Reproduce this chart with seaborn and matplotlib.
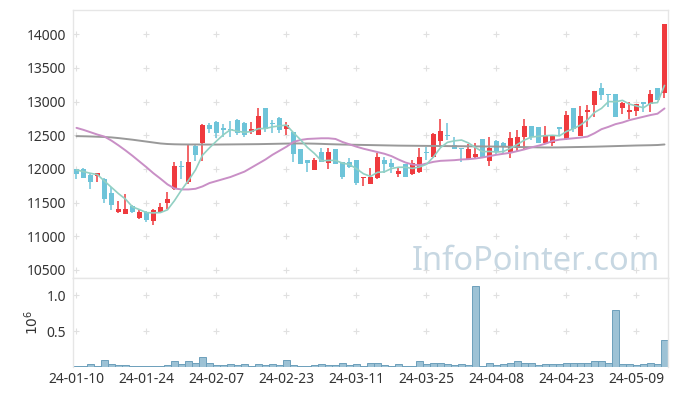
import numpy as np
import pandas as pd
import matplotlib
matplotlib.use("Agg")
import matplotlib.pyplot as plt
import seaborn as sns

# daily OHLC (KRW), 2024-01-10 .. 2024-05-16
opens = [11992, 11997, 11903, 11893, 11844, 11636, 11364, 11334, 11448, 11274,
         11359, 11230, 11364, 11497, 11696, 12037, 11809, 12343, 12378, 12650,
         12699, 12610, 12590, 12724, 12680, 12551, 12502, 12907, 12684, 12758,
         12595, 12542, 12294, 12131, 11978, 12245, 12091, 12294, 12096, 12096,
         12131, 11859, 11770, 11868, 12131, 12082, 11923, 12071, 11918, 11957,
         12245, 12171, 12413, 12502, 12353, 12313, 12141, 12180, 12442, 12121,
         12422, 12378, 12239, 12304, 12467, 12635, 12616, 12378, 12378, 12625,
         12438, 12907, 12487, 12838, 12947, 13195, 13120, 13120, 12898, 12838,
         12862, 12987, 12962, 13195, 13129]
highs = [12001, 12007, 11942, 11942, 11859, 11734, 11522, 11621, 11463, 11389,
         11374, 11408, 11497, 11660, 12105, 12120, 12353, 12368, 12660, 12684,
         12714, 12660, 12709, 12739, 12694, 12690, 12907, 12910, 12724, 12768,
         12690, 12542, 12294, 12131, 12160, 12304, 12304, 12294, 12096, 12165,
         12131, 11874, 12007, 12239, 12170, 12141, 12007, 12071, 12131, 12304,
         12328, 12536, 12735, 12684, 12476, 12313, 12368, 12378, 12442, 12476,
         12427, 12393, 12551, 12576, 12739, 12635, 12616, 12635, 12502, 12625,
         12858, 12907, 12932, 12947, 13155, 13269, 13120, 13120, 12987, 12987,
         12962, 12987, 13169, 13195, 14149]
lows = [11853, 11868, 11696, 11809, 11488, 11389, 11349, 11325, 11349, 11262,
        11206, 11166, 11340, 11403, 11685, 11844, 11774, 12120, 12120, 12536,
        12462, 12476, 12472, 12502, 12472, 12512, 12502, 12542, 12527, 12527,
        12502, 12096, 12067, 11957, 11978, 12096, 11993, 12067, 11849, 12007,
        11760, 11749, 11770, 11849, 11942, 11942, 11883, 11874, 11908, 11942,
        12131, 12156, 12343, 12427, 12289, 12105, 12141, 12145, 12180, 12041,
        12215, 12230, 12156, 12269, 12279, 12427, 12387, 12368, 12343, 12502,
        12427, 12551, 12487, 12625, 12773, 13021, 12921, 12773, 12813, 12739,
        12784, 12847, 12847, 13021, 13046]
closes = [11927, 11868, 11809, 11933, 11556, 11463, 11403, 11403, 11354, 11359,
          11236, 11384, 11429, 11556, 12042, 12022, 12101, 12205, 12650, 12586,
          12527, 12576, 12575, 12536, 12502, 12591, 12784, 12586, 12660, 12576,
          12650, 12215, 12067, 12082, 12131, 12105, 12245, 12067, 11883, 12031,
          11785, 11874, 11874, 12180, 12071, 12031, 11967, 11874, 12091, 12180,
          12230, 12516, 12561, 12487, 12289, 12294, 12294, 12220, 12180, 12313,
          12244, 12338, 12453, 12476, 12635, 12467, 12387, 12502, 12502, 12595,
          12798, 12586, 12784, 12873, 13155, 13095, 13095, 12773, 12972, 12873,
          12962, 12962, 13106, 13021, 14149]
# volume in millions of shares
volume = [0.023, 0.023, 0.042, 0.023, 0.097, 0.042, 0.028, 0.028, 0.014, 0.023,
          0.023, 0.023, 0.023, 0.037, 0.083, 0.042, 0.083, 0.056, 0.139, 0.069,
          0.037, 0.028, 0.042, 0.028, 0.042, 0.014, 0.042, 0.028, 0.042, 0.028,
          0.097, 0.028, 0.014, 0.014, 0.028, 0.042, 0.028, 0.032, 0.056, 0.028,
          0.042, 0.014, 0.056, 0.056, 0.028, 0.014, 0.042, 0.014, 0.014, 0.083,
          0.042, 0.056, 0.056, 0.042, 0.028, 0.042, 0.028, 1.13, 0.014, 0.056,
          0.028, 0.042, 0.069, 0.083, 0.056, 0.056, 0.028, 0.042, 0.042, 0.042,
          0.069, 0.056, 0.069, 0.056, 0.083, 0.083, 0.069, 0.80, 0.042, 0.042,
          0.028, 0.042, 0.069, 0.042, 0.38]
# moving averages
ma5 = [11985, 11960, 11935, 11915, 11819, 11726, 11633, 11552, 11436, 11396,
       11351, 11347, 11352, 11393, 11529, 11687, 11830, 11985, 12204, 12313,
       12414, 12509, 12583, 12560, 12543, 12556, 12598, 12600, 12625, 12639,
       12651, 12537, 12434, 12318, 12229, 12120, 12126, 12126, 12086, 12066,
       12002, 11928, 11889, 11949, 11957, 12006, 12025, 12025, 12007, 12029,
       12068, 12178, 12316, 12395, 12417, 12429, 12385, 12317, 12255, 12260,
       12250, 12259, 12306, 12365, 12429, 12474, 12484, 12493, 12499, 12491,
       12557, 12597, 12653, 12727, 12839, 12899, 13000, 12998, 13018, 12962,
       12935, 12908, 12975, 12985, 13240]
ma20 = [12610, 12580, 12545, 12510, 12480, 12420, 12350, 12275, 12195, 12110,
        12025, 11935, 11855, 11770, 11710, 11695, 11695, 11705, 11740, 11790,
        11820, 11850, 11880, 11920, 11960, 12020, 12080, 12140, 12210, 12270,
        12330, 12400, 12430, 12445, 12450, 12455, 12455, 12445, 12400, 12365,
        12330, 12300, 12275, 12250, 12225, 12190, 12140, 12095, 12065, 12055,
        12080, 12105, 12120, 12125, 12130, 12140, 12145, 12155, 12170, 12190,
        12210, 12225, 12240, 12265, 12290, 12320, 12345, 12375, 12415, 12435,
        12445, 12455, 12465, 12480, 12530, 12590, 12625, 12665, 12690, 12725,
        12750, 12775, 12800, 12820, 12898]
ma120 = [12487, 12485, 12482, 12478, 12474, 12468, 12458, 12446, 12434, 12420,
         12406, 12392, 12378, 12370, 12366, 12364, 12363, 12363, 12362, 12362,
         12362, 12363, 12364, 12365, 12366, 12367, 12368, 12370, 12372, 12374,
         12376, 12378, 12378, 12377, 12375, 12372, 12368, 12365, 12362, 12360,
         12358, 12356, 12354, 12352, 12350, 12348, 12346, 12345, 12344, 12343,
         12342, 12341, 12340, 12339, 12338, 12337, 12336, 12335, 12334, 12333,
         12332, 12330, 12328, 12326, 12324, 12322, 12320, 12319, 12319, 12320,
         12322, 12324, 12326, 12328, 12330, 12333, 12336, 12339, 12342, 12345,
         12348, 12350, 12352, 12355, 12363]

holidays = ["2024-02-09", "2024-02-12", "2024-03-01", "2024-04-10",
            "2024-05-01", "2024-05-06", "2024-05-15"]
dates = pd.bdate_range("2024-01-10", "2024-05-16")
dates = dates[~dates.isin(pd.to_datetime(holidays))]

df = pd.DataFrame({"open": opens, "high": highs, "low": lows, "close": closes,
                   "volume": volume, "ma5": ma5, "ma20": ma20, "ma120": ma120})
df["idx"] = np.arange(len(df))

sns.set_theme(style="white")
plt.rcParams["font.family"] = ["Noto Sans", "DejaVu Sans"]

UP = "#ef3a3e"
DOWN = "#6ec4d9"
GRIDC = "#e0e0e0"
SPINE = "#e6e6e6"

fig = plt.figure(figsize=(6.77, 3.96), dpi=100)
ax = fig.add_axes([0.1078, 0.2980, 0.8789, 0.6767])
axv = fig.add_axes([0.1078, 0.0720, 0.8789, 0.2260], sharex=ax)

xt = list(range(0, len(df), 10))
xlabels = [dates[i].strftime("%y-%m-%d") for i in xt]
yt = list(range(10500, 14001, 500))

# grid as little crosses
gx, gy = np.meshgrid(xt, yt)
ax.scatter(gx.ravel(), gy.ravel(), marker="+", s=14, color=GRIDC, linewidths=0.8, zorder=0)
gx2, gy2 = np.meshgrid(xt, [0.5, 1.0])
axv.scatter(gx2.ravel(), gy2.ravel(), marker="+", s=14, color=GRIDC, linewidths=0.8, zorder=0)

# candles
up = df["close"] >= df["open"]
colors = np.where(up, UP, DOWN)
body_lo = np.minimum(df["open"], df["close"])
body_h = np.maximum(np.abs(df["close"] - df["open"]), 12)
ax.vlines(df["idx"], df["low"], df["high"], colors=colors, linewidth=1.1, zorder=2)
ax.bar(df["idx"], body_h, bottom=body_lo, width=0.66, color=colors, linewidth=0, zorder=3)

# moving averages
sns.lineplot(data=df, x="idx", y="ma120", ax=ax, color="#999999", lw=1.4, zorder=4)
sns.lineplot(data=df, x="idx", y="ma20", ax=ax, color="#c98fc6", lw=1.4, zorder=4)
sns.lineplot(data=df, x="idx", y="ma5", ax=ax, color="#92d0c3", lw=1.2, zorder=4)

ax.text(0.987, 0.0, "InfoPointer.com", transform=ax.transAxes, ha="right", va="bottom",
        fontsize=23.5, color="#b9cedb", alpha=0.8, zorder=1)

ax.set_xlim(-0.5, len(df) - 0.5)
ax.set_ylim(10380, 14360)
ax.set_yticks(yt)
ax.set_yticklabels([str(v) for v in yt])
ax.set_xlabel("")
ax.set_ylabel("")
ax.tick_params(axis="x", which="both", labelbottom=False, length=4, direction="inout", color=GRIDC)
ax.tick_params(axis="y", length=0, pad=5, labelsize=10, labelcolor="#333333")

# volume
axv.bar(df["idx"], df["volume"], width=1.0, color="#9dc2d5", edgecolor="#6d9fbb", linewidth=0.7)
axv.set_ylim(0, 1.24)
axv.set_yticks([0.5, 1.0])
axv.set_yticklabels(["0.5", "1.0"])
axv.set_xticks(xt)
axv.set_xticklabels(xlabels)
axv.set_ylabel("$10^6$", fontsize=10, color="#333333", labelpad=3)
axv.tick_params(axis="y", length=0, pad=5, labelsize=10, labelcolor="#333333")
axv.tick_params(axis="x", length=0, pad=3, labelsize=10, labelcolor="#333333")

for a in (ax, axv):
    for s in a.spines.values():
        s.set_color(SPINE)
        s.set_linewidth(1.0)
axv.spines["bottom"].set_visible(False)

fig.savefig("out.png", dpi=100)
